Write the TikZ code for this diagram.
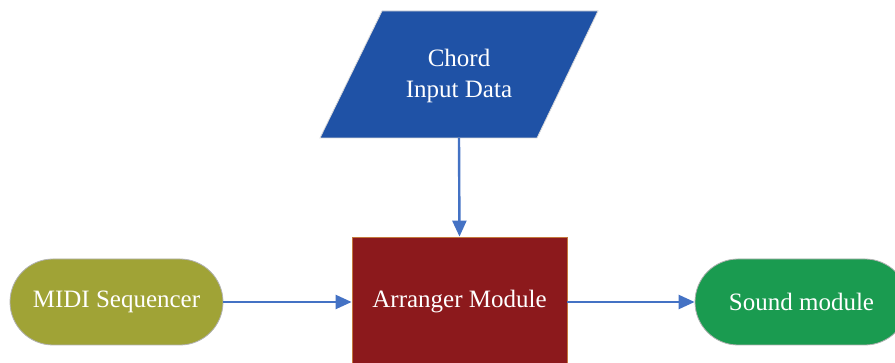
\documentclass[tikz,border=0pt]{standalone}
\usepackage{fontspec}
\setmainfont{Liberation Serif}
\usetikzlibrary{shapes.geometric,shapes.misc,arrows.meta}
\definecolor{chordblue}{RGB}{31,82,166}
\definecolor{arrred}{RGB}{140,25,28}
\definecolor{arrborder}{RGB}{196,120,60}
\definecolor{midiolive}{RGB}{160,163,54}
\definecolor{soundgreen}{RGB}{26,155,80}
\definecolor{linkblue}{RGB}{68,114,196}
\begin{document}
\begin{tikzpicture}[x=1pt,y=-1pt,
  lbl/.style={text=white,font=\fontsize{25}{31}\selectfont,align=center,inner sep=0pt},
  pill/.style={lbl,rounded rectangle,draw=gray!60,line width=0.8pt,minimum width=213pt,minimum height=86pt},
  link/.style={draw=linkblue,line width=2.4pt,-{Triangle[length=16pt,width=14pt]}}]
\useasboundingbox (0,0) rectangle (895,363);
\clip (0,0) rectangle (895,363);
\fill[chordblue,draw=gray!30,line width=0.8pt] (320,138) -- (382,11) -- (598,11) -- (537,138) -- cycle;
\node[lbl,rectangle,minimum height=124pt] (chord) at (459,76) {Chord\\Input Data};
\node[lbl,rectangle,fill=arrred,draw=arrborder,line width=0.8pt,
  minimum width=215pt,minimum height=130pt] (arr) at (459.5,302) {Arranger Module};
\node[pill,fill=midiolive] (midi) at (116.5,302) {MIDI Sequencer};
\node[pill,fill=soundgreen] (sound) at (801.5,302) {Sound module};
\draw[link] (chord.south) -- (arr.north);
\draw[link] (midi.east) -- (arr.west);
\draw[link] (arr.east) -- (sound.west);
\end{tikzpicture}
\end{document}
